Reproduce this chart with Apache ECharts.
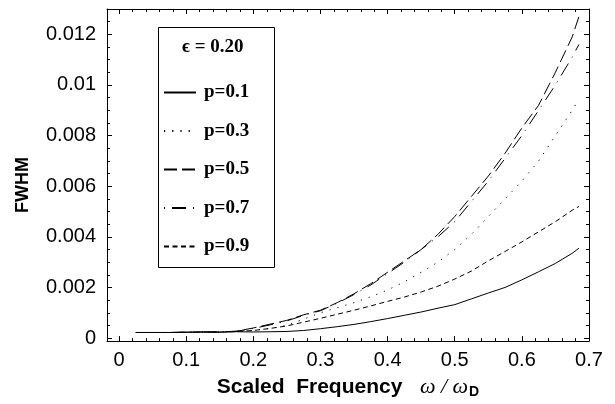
<!DOCTYPE html>
<html>
<head>
<meta charset="utf-8">
<script src="https://cdn.jsdelivr.net/npm/echarts@6/dist/echarts.min.js"></script>
<style>html,body{margin:0;padding:0;background:#fff;}#c{width:615px;height:404px;}</style>
</head>
<body>
<div id="c"></div>
<script>
// ---- data ----
const xValues = [0.025,0.05,0.075,0.1,0.125,0.15,0.175,0.2,0.225,0.25,0.275,0.3,0.325,0.35,0.375,0.4,0.425,0.45,0.475,0.5,0.525,0.55,0.575,0.6,0.625,0.65,0.675,0.685];
const p01 = [0.00022,0.00022,0.00022,0.00023,0.00024,0.00023,0.00025,0.00024,0.00025,0.00026,0.00030,0.00037,0.00045,0.00054,0.00065,0.00077,0.00090,0.00103,0.00118,0.00132,0.00155,0.00178,0.00200,0.00230,0.00262,0.00295,0.00335,0.00355];
const p03 = [0.00022,0.00022,0.00022,0.00023,0.00024,0.00024,0.00026,0.00030,0.00038,0.00050,0.00075,0.00100,0.00120,0.00140,0.00163,0.00190,0.00222,0.00260,0.00300,0.00350,0.00410,0.00480,0.00550,0.00620,0.00700,0.00800,0.00900,0.00945];
const p05 = [0.00022,0.00022,0.00022,0.00023,0.00024,0.00024,0.00027,0.00040,0.00055,0.00070,0.00092,0.00110,0.00140,0.00175,0.00215,0.00260,0.00305,0.00350,0.00410,0.00480,0.00560,0.00640,0.00730,0.00830,0.00920,0.01050,0.01190,0.01270];
const p07 = [0.00022,0.00022,0.00022,0.00023,0.00024,0.00024,0.00027,0.00038,0.00052,0.00068,0.00090,0.00108,0.00138,0.00172,0.00210,0.00255,0.00300,0.00350,0.00400,0.00460,0.00540,0.00620,0.00710,0.00800,0.00900,0.01000,0.01110,0.01160];
const p09 = [0.00022,0.00022,0.00022,0.00023,0.00024,0.00024,0.00026,0.00030,0.00038,0.00048,0.00063,0.00078,0.00094,0.00110,0.00127,0.00145,0.00162,0.00182,0.00205,0.00233,0.00265,0.00305,0.00342,0.00380,0.00420,0.00460,0.00505,0.00520];
const seriesNames = ['p=0.1','p=0.3','p=0.5','p=0.7','p=0.9'];
const xTickLabels = ['0','0.1','0.2','0.3','0.4','0.5','0.6','0.7'];
const yTickLabels = ['0','0.002','0.004','0.006','0.008','0.01','0.012'];
const legendTitle = 'ϵ = 0.20';

// ---- build ----
const seriesValues = [p01,p03,p05,p07,p09];
const dashes = ['solid',[1.2,7],[13,5],[1,7,14,7],[5,3.5]];
const xMajor = xTickLabels.map(Number);
const yMajor = yTickLabels.map(Number);
const xMinor = []; for (let i = 0; i <= 35; i++) xMinor.push(+(i*0.02).toFixed(2));
const yMinor = []; for (let i = 0; i <= 26; i++) yMinor.push(+(i*0.0005).toFixed(4));
const X_MIN = -0.018, X_MAX = 0.7, Y_MIN = -0.00012, Y_MAX = 0.013;

function ax(kind, pos, vals, len, withLine, withLabels, labels) {
  const a = {
    type: 'value', position: pos,
    min: kind === 'x' ? X_MIN : Y_MIN, max: kind === 'x' ? X_MAX : Y_MAX,
    splitLine: {show: false},
    axisLine: {show: withLine, onZero: false, lineStyle: {color: '#000', width: 1}},
    axisTick: {show: true, inside: true, length: len, customValues: vals, lineStyle: {color: '#000', width: 1}},
    axisLabel: {show: withLabels}
  };
  if (withLabels) {
    a.axisLabel = {
      show: true, customValues: vals, color: '#000',
      fontFamily: 'Liberation Sans, Arial, sans-serif', fontSize: 20,
      margin: kind === 'x' ? 9 : 11,
      formatter: v => { const i = vals.findIndex(t => Math.abs(t - v) < 1e-9); return i >= 0 ? labels[i] : ''; }
    };
  }
  return a;
}

const xAxes = [
  ax('x','bottom',xMajor,5,true,true,xTickLabels),
  ax('x','bottom',xMinor,3,false,false),
  ax('x','top',xMajor,5,true,false),
  ax('x','top',xMinor,3,false,false)
];
xAxes[0].name = '{a|Scaled  Frequency}{s|   }{w|ω / ω}{d|D}';
xAxes[0].nameLocation = 'middle';
xAxes[0].nameGap = 34;
xAxes[0].nameTextStyle = {
  color: '#000',
  rich: {
    a: {fontFamily: 'Liberation Sans, Arial, sans-serif', fontWeight: 'bold', fontSize: 21, color: '#000'},
    s: {fontSize: 21},
    w: {fontFamily: 'Liberation Serif, Times New Roman, serif', fontStyle: 'italic', fontSize: 22, color: '#000'},
    d: {fontFamily: 'Liberation Sans, Arial, sans-serif', fontWeight: 'bold', fontSize: 14, color: '#000', lineHeight: 13, padding: [10,0,0,1]}
  }
};
const yAxes = [
  ax('y','left',yMajor,5,true,true,yTickLabels),
  ax('y','left',yMinor,3,false,false),
  ax('y','right',yMajor,5,true,false),
  ax('y','right',yMinor,3,false,false)
];
yAxes[0].name = 'FWHM';
yAxes[0].nameLocation = 'middle';
yAxes[0].nameGap = 75;
yAxes[0].nameTextStyle = {color: '#000', fontFamily: 'Liberation Sans, Arial, sans-serif', fontWeight: 'bold', fontSize: 18, padding: [0,20,0,0]};

const series = seriesNames.map((n, k) => ({
  name: n, type: 'line', xAxisIndex: 0, yAxisIndex: 0,
  data: xValues.map((x, i) => [x, seriesValues[k][i]]),
  symbol: 'none', smooth: false, silent: true, animation: false,
  lineStyle: {color: '#000', width: 1, type: dashes[k]},
  itemStyle: {color: '#000'}
}));

const chart = echarts.init(document.getElementById('c'), null, {renderer: 'canvas'});
chart.setOption({
  animation: false,
  backgroundColor: '#fff',
  grid: {left: 107, right: 26, top: 9, bottom: 58, containLabel: false},
  xAxis: xAxes,
  yAxis: yAxes,
  title: {
    text: legendTitle, left: 182, top: 38, z: 10, padding: 0,
    textStyle: {fontFamily: 'Liberation Serif, DejaVu Serif, Times New Roman, serif', fontWeight: 'bold', fontSize: 19, color: '#000'}
  },
  legend: {
    orient: 'vertical', left: 163, top: 83, z: 10, padding: 0,
    itemWidth: 32, itemHeight: 14, itemGap: 19.5,
    data: seriesNames,
    itemStyle: {color: 'rgba(0,0,0,0)', borderWidth: 0, opacity: 0},
    textStyle: {fontFamily: 'Liberation Serif, Times New Roman, serif', fontWeight: 'bold', fontSize: 19, color: '#000', padding: [0,0,0,3]},
    selectedMode: false
  },
  graphic: [{
    type: 'rect', z: 5,
    shape: {x: 158.5, y: 27.5, width: 116, height: 240},
    style: {fill: '#fff', stroke: '#000', lineWidth: 1}
  }],
  series: series
});
</script>
</body>
</html>
